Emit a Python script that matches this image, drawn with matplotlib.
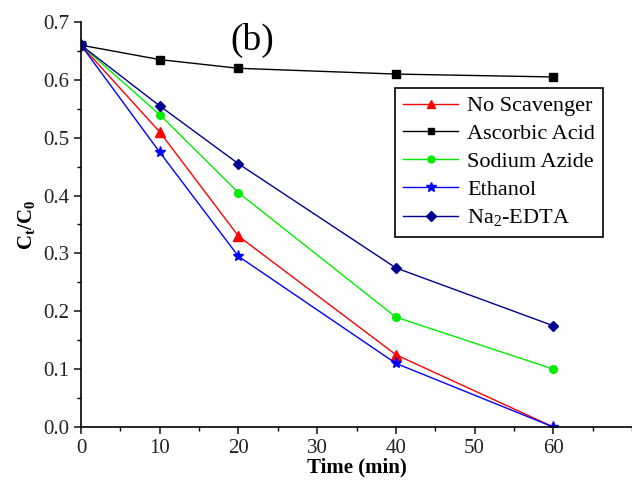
import matplotlib.pyplot as plt
from matplotlib.ticker import MultipleLocator

plt.rcParams['font.family'] = 'Liberation Serif'
plt.rcParams['mathtext.fontset'] = 'custom'
plt.rcParams['mathtext.rm'] = 'Liberation Serif'
plt.rcParams['mathtext.bf'] = 'Liberation Serif:bold'

# time points (min)
time = [0, 10, 20, 40, 60]

# Ct/C0 for each scavenger
no_scavenger = [0.66, 0.51, 0.33, 0.125, 0.0]
ascorbic_acid = [0.66, 0.635, 0.62, 0.61, 0.605]
sodium_azide = [0.66, 0.54, 0.405, 0.19, 0.10]
ethanol = [0.66, 0.475, 0.295, 0.11, 0.0]
na2_edta = [0.66, 0.555, 0.455, 0.275, 0.175]

fig = plt.figure(figsize=(6.32, 4.86), dpi=100)
ax = fig.add_axes([81/632, 59/486, 551/632, 405/486])

ax.plot(time, no_scavenger, color='red', marker='^', markersize=7, lw=1, label='No Scavenger')
ax.plot(time, ascorbic_acid, color='black', marker='s', markersize=5.5, lw=1, label='Ascorbic Acid')
ax.plot(time, sodium_azide, color='#00ee00', marker='o', markersize=5.5, lw=1, label='Sodium Azide')
ax.plot(time, ethanol, color='#0000ff', marker='*', markersize=8, lw=1, label='Ethanol')
ax.plot(time, na2_edta, color='#000090', marker='D', markersize=5.5, lw=1, label='Na$_2$-EDTA')

ax.set_xlim(0, 70)
ax.set_ylim(0, 0.7)
ax.set_xticks([0, 10, 20, 30, 40, 50, 60])
ax.set_yticks([0.0, 0.1, 0.2, 0.3, 0.4, 0.5, 0.6, 0.7])
ax.xaxis.set_minor_locator(MultipleLocator(5))
ax.yaxis.set_minor_locator(MultipleLocator(0.05))
ax.tick_params(which='major', direction='out', length=5, width=1.2, labelsize=15, colors='#222222')
ax.tick_params(which='minor', direction='out', length=3, width=1)

ax.spines['top'].set_visible(False)
ax.spines['right'].set_visible(False)
ax.spines['left'].set_linewidth(1.2)
ax.spines['bottom'].set_linewidth(1.2)

ax.set_xlabel('Time (min)', fontsize=15, fontweight='bold', labelpad=0)
ax.set_ylabel('C$_\\mathbf{t}$/C$_\\mathbf{0}$', fontsize=15, fontweight='bold', labelpad=4)

ax.text(21.8, 0.668, '(b)', fontsize=27, ha='center', va='center')

leg = ax.legend(loc='upper left', bbox_to_anchor=(0.57, 0.837), borderaxespad=0,
                fontsize=16, frameon=True, fancybox=False, edgecolor='black', framealpha=1,
                handlelength=2.5, borderpad=0.35, labelspacing=0.33, handletextpad=0.4,
                markerscale=0.9)
leg.get_frame().set_linewidth(1.2)

fig.savefig('out.png', dpi=100)
